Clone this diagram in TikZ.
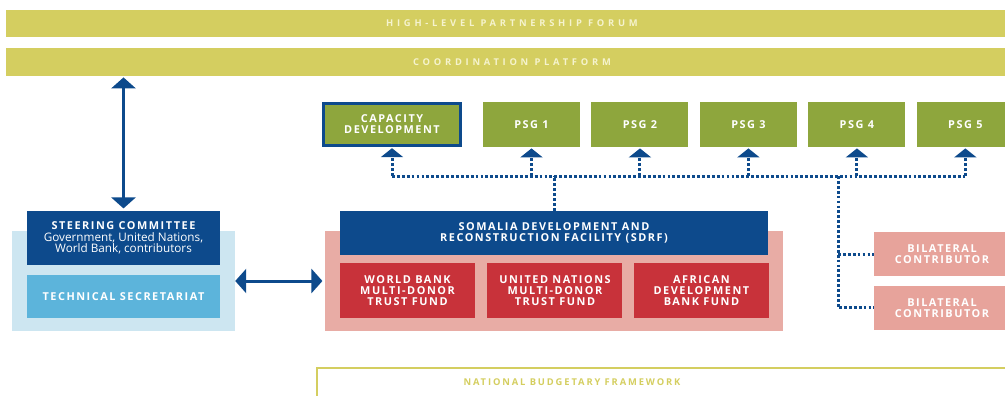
\documentclass[tikz,border=0pt]{standalone}
\usepackage{fontspec}
\setmainfont{Open Sans}
\newfontfamily\boxfont{Open Sans}[LetterSpace=14]
\newfontfamily\barfont{Open Sans}[LetterSpace=40]
\newfontfamily\framefont{Open Sans}[LetterSpace=20]
\usepackage{tikz}
\usetikzlibrary{arrows.meta, positioning}

\definecolor{barolive}{RGB}{212,206,96}
\definecolor{sdrfblue}{RGB}{13,74,140}
\definecolor{paleblue}{RGB}{205,230,241}
\definecolor{skyblue}{RGB}{92,180,219}
\definecolor{palepink}{RGB}{232,172,165}
\definecolor{fundred}{RGB}{200,50,58}
\definecolor{psggreen}{RGB}{142,166,61}
\definecolor{bilpink}{RGB}{231,163,155}
\definecolor{bartext}{RGB}{245,243,205}

\begin{document}
\begin{tikzpicture}
\tikzset{
  bar/.style={
    rectangle,
    fill=barolive,
    minimum height=0.82cm,
    minimum width=30.36cm,
    text=bartext,
    font=\barfont\bfseries\fontsize{8}{9}\selectfont
  },
  block/.style={
    rectangle,
    align=center,
    text=white,
    inner sep=0pt,
    font=\boxfont\bfseries\fontsize{9.3}{9.4}\selectfont
  },
  fund/.style={
    block,
    fill=fundred,
    minimum width=4.05cm,
    minimum height=1.65cm
  },
  psg/.style={
    block,
    fill=psggreen,
    minimum width=2.91cm,
    minimum height=1.35cm
  },
  bilat/.style={
    block,
    fill=bilpink,
    minimum width=4.08cm,
    minimum height=1.33cm
  },
  bigarrow/.style={
    {Triangle[width=0.72cm, length=0.33cm]}-{Triangle[width=0.72cm, length=0.33cm]},
    draw=sdrfblue,
    line width=0.09cm
  },
  dotline/.style={
    draw=sdrfblue,
    line width=0.09cm,
    dash pattern=on 2.4pt off 1.8pt
  },
  dotarrow/.style={
    dotline,
    -{Triangle[width=0.66cm, length=0.27cm]}
  }
}
\useasboundingbox (0,0) rectangle (30.15,-11.85);

% Forum and platform bars
\node[bar] (forum) at (15.36,-0.705) {HIGH-LEVEL PARTNERSHIP FORUM};
\node[bar, minimum height=0.84cm] (coord) at (15.36,-1.86) {COORDINATION PLATFORM};

% Steering committee side
\node[rectangle, fill=paleblue, minimum width=6.69cm, minimum height=3cm] (stbg) at (3.705,-8.43) {};
\node[block, fill=sdrfblue, minimum width=5.79cm, minimum height=1.62cm, font=\fontsize{10}{10}\selectfont] (steer) at (3.705,-7.14)
  {{\boxfont\bfseries\fontsize{9.3}{10}\selectfont STEERING COMMITTEE}\\Government, United Nations,\\World Bank, contributors};
\node[block, fill=skyblue, minimum width=5.79cm, minimum height=1.29cm] (techsec) at (3.705,-8.895) {TECHNICAL SECRETARIAT};

% SDRF and its funds
\node[rectangle, fill=palepink, minimum width=13.74cm, minimum height=3cm] (sdrfbg) at (16.62,-8.43) {};
\node[block, fill=sdrfblue, minimum width=12.84cm, minimum height=1.32cm] (sdrf) at (16.62,-6.99)
  {SOMALIA DEVELOPMENT AND\\RECONSTRUCTION FACILITY (SDRF)};
\node[fund] (wb) at (12.225,-8.715) {WORLD BANK\\MULTI-DONOR\\TRUST FUND};
\node[fund, right=0.36cm of wb] (un) {UNITED NATIONS\\MULTI-DONOR\\TRUST FUND};
\node[fund, right=0.33cm of un] (afdb) {AFRICAN\\DEVELOPMENT\\BANK FUND};

% Capacity development and PSGs
\node[block, fill=psggreen, draw=sdrfblue, line width=0.09cm, minimum width=4.11cm, minimum height=1.26cm] (capdev) at (11.76,-3.735)
  {CAPACITY\\DEVELOPMENT};
\node[psg] (psg1) at (15.945,-3.735) {PSG 1};
\node[psg, right=0.33cm of psg1] (psg2) {PSG 2};
\node[psg, right=0.33cm of psg2] (psg3) {PSG 3};
\node[psg, right=0.33cm of psg3] (psg4) {PSG 4};
\node[psg, right=0.33cm of psg4] (psg5) {PSG 5};

% Bilateral contributors
\node[bilat] (bil1) at (28.26,-7.62) {BILATERAL\\CONTRIBUTOR};
\node[bilat, below=0.27cm of bil1] (bil2) {BILATERAL\\CONTRIBUTOR};

% National budgetary framework
\node[rectangle, draw=barolive, line width=0.06cm, minimum width=21.39cm, minimum height=0.96cm] (nbf) at (20.205,-11.52) {};
\node[text=barolive, font=\framefont\bfseries\fontsize{8}{9}\selectfont] (nbftext) at (17.16,-11.46) {NATIONAL BUDGETARY FRAMEWORK};

% Solid arrows
\draw[bigarrow, shorten <=1pt, shorten >=2pt] (steer.north |- coord.south) -- (steer.north);
\draw[bigarrow, shorten >=2pt] (stbg.east) -- (sdrfbg.west);

% Dotted links
\coordinate (bus) at (16.62,-5.28);
\coordinate (spine) at (25.14,-5.28);
\draw[dotline] (capdev.south |- bus) -- (psg5.south |- bus);
\draw[dotline] (sdrf.north) -- (sdrf.north |- bus);
\foreach \n in {capdev, psg1, psg2, psg3, psg4, psg5}
  \draw[dotarrow] (\n.south |- bus) -- ([yshift=-1pt]\n.south);
\draw[dotline] (spine) |- (bil2.west);
\draw[dotline] (spine |- bil1.west) -- (bil1.west);

\end{tikzpicture}
\end{document}
